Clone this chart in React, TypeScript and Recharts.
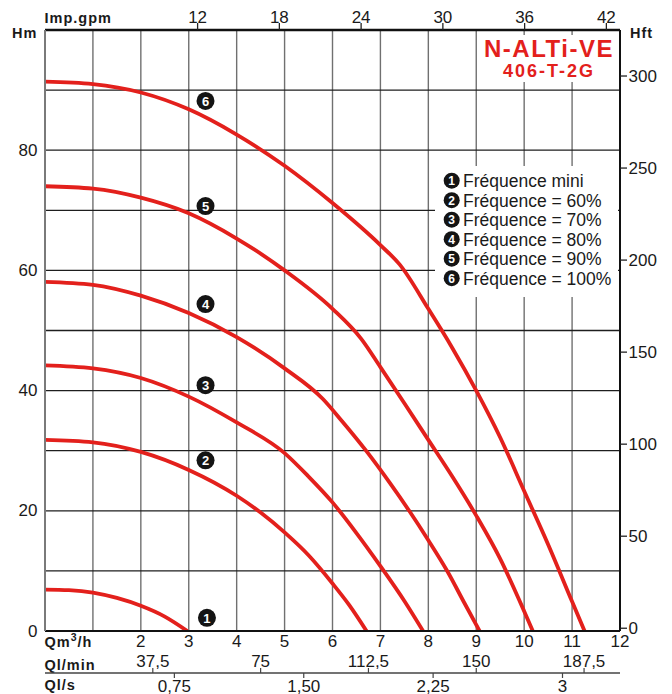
import React from 'react'
import { LineChart, Line, XAxis, YAxis, CartesianGrid, ReferenceDot } from 'recharts'

const RED = '#e3201c'
const FONT = '"Liberation Sans", Arial, Helvetica, sans-serif'

const q1 = [0, 0.5, 1, 1.5, 2, 2.5, 2.97]
const h1 = [6.9, 6.8, 6.4, 5.5, 4.2, 2.4, 0]
const q2 = [0, 1, 2, 3, 4, 4.5, 5, 5.5, 6, 6.35, 6.71]
const h2 = [31.8, 31.4, 29.8, 26.8, 22.5, 19.7, 16.4, 12.6, 7.9, 4.3, 0]
const q3 = [0, 1, 2, 3, 4, 5, 5.5, 6, 6.5, 7, 7.5, 7.89]
const h3 = [44.2, 43.7, 42.1, 39.0, 34.7, 29.6, 25.7, 21.4, 16.3, 10.8, 5.0, 0]
const q4 = [0, 1, 2, 3, 4, 5, 5.8, 6.2, 6.7, 7.2, 7.6, 8, 8.4, 8.75, 9.07]
const h4 = [58.1, 57.6, 55.8, 52.9, 48.9, 43.7, 38.6, 34.9, 30.0, 24.6, 20.0, 15.1, 9.9, 4.7, 0]
const q5 = [0, 1, 2, 3, 4, 5, 6, 6.6, 7, 7.5, 8, 8.5, 9, 9.5, 10, 10.18]
const h5 = [74.0, 73.6, 72.1, 69.5, 65.3, 60.0, 53.6, 48.6, 43.9, 37.9, 31.8, 25.7, 19.2, 12.0, 3.3, 0]
const q6 = [0, 1, 2, 3, 4, 5, 6, 7, 7.4, 8, 8.5, 9, 9.5, 10, 10.5, 11, 11.26]
const h6 = [91.4, 91.0, 89.6, 86.8, 82.6, 77.4, 71.2, 64.2, 61.0, 53.6, 47.1, 40.0, 32.2, 23.3, 14.4, 4.9, 0]

const hmTicks = [0, 10, 20, 30, 40, 50, 60, 70, 80, 90, 100]
const hmLabels = [0, 20, 40, 60, 80]
const hftTicks = [0, 50, 100, 150, 200, 250, 300]
const qTicks = [0, 1, 2, 3, 4, 5, 6, 7, 8, 9, 10, 11, 12]
const qLabels = [2, 3, 4, 5, 6, 7, 8, 9, 10, 11, 12]
const gpmTicks = [12, 18, 24, 30, 36, 42]
const lminTicks = [37.5, 75, 112.5, 150, 187.5]
const lminLabels = ['37,5', '75', '112,5', '150', '187,5']
const lsTicks = [0.75, 1.5, 2.25, 3]
const lsLabels = ['0,75', '1,50', '2,25', '3']

const legendLabels = [
  'Fréquence mini',
  'Fréquence = 60%',
  'Fréquence = 70%',
  'Fréquence = 80%',
  'Fréquence = 90%',
  'Fréquence = 100%',
]
const markerQ = [3.38, 3.35, 3.35, 3.35, 3.35, 3.35]
const markerH = [2.2, 28.4, 40.9, 54.4, 70.7, 88.2]

const toPoints = (q: number[], h: number[]) => q.map((v, i) => ({ q: v, h: h[i] }))
const curves = [toPoints(q1, h1), toPoints(q2, h2), toPoints(q3, h3), toPoints(q4, h4), toPoints(q5, h5), toPoints(q6, h6)]

const numStyle: React.CSSProperties = { fontFamily: FONT, fontSize: 17, fill: '#1a1a1a' }
const boldStyle: React.CSSProperties = { fontFamily: FONT, fontSize: 14.5, fontWeight: 'bold', letterSpacing: 1, fill: '#1a1a1a' }

const HmTick = ({ x, y, payload }: any) => {
  if (!hmLabels.includes(payload.value)) return <g />
  return (
    <text x={x - 7.5} y={y} textAnchor="end" dominantBaseline="central" style={numStyle}>
      {payload.value}
    </text>
  )
}

const HftTick = ({ x, y, payload }: any) => (
  <g>
    <line x1={x} x2={x + 7} y1={y} y2={y} stroke="#222" strokeWidth={1.3} />
    <text x={x + 8.5} y={y} dominantBaseline="central" style={numStyle}>
      {payload.value}
    </text>
  </g>
)

const QTick = ({ x, y, payload }: any) => {
  if (!qLabels.includes(payload.value)) return <g />
  return (
    <text x={x} y={y + 10} textAnchor="middle" dominantBaseline="central" style={numStyle}>
      {payload.value}
    </text>
  )
}

const GpmTick = ({ x, y, payload }: any) => (
  <g>
    <line x1={x} x2={x} y1={y - 7} y2={y} stroke="#222" strokeWidth={1.3} />
    <text x={x} y={y - 13} textAnchor="middle" dominantBaseline="central" style={numStyle}>
      {payload.value}
    </text>
  </g>
)

const LminTick = ({ x, y, payload }: any) => (
  <g>
    <line x1={x} x2={x} y1={y + 17} y2={y + 22} stroke="#444" strokeWidth={1.2} />
    <text x={x} y={y + 10} textAnchor="middle" dominantBaseline="central" style={numStyle}>
      {lminLabels[lminTicks.indexOf(payload.value)]}
    </text>
  </g>
)

const LsTick = ({ x, y, payload }: any) => (
  <g>
    <line x1={x} x2={x} y1={y} y2={y + 5} stroke="#444" strokeWidth={1.2} />
    <text x={x} y={y + 13} textAnchor="middle" dominantBaseline="central" style={numStyle}>
      {lsLabels[lsTicks.indexOf(payload.value)]}
    </text>
  </g>
)

const Marker = (n: number) => (p: any) => (
  <g>
    <circle cx={p.cx} cy={p.cy} r={9} fill="#141414" />
    <text x={p.cx} y={p.cy + 0.5} textAnchor="middle" dominantBaseline="central"
      style={{ fontFamily: FONT, fontSize: 13, fontWeight: 'bold', fill: '#fff' }}>
      {n}
    </text>
  </g>
)

// séries vides qui activent les échelles secondaires (aucun tracé)
const carrier = (ticks: number[]) => ticks.map((v) => ({ v }))

export default function App() {
  return (
    <div style={{ position: 'absolute', left: 0, top: 0, width: 672, height: 694, background: '#fff' }}>
      <LineChart width={672} height={694} margin={{ top: 0, right: 0, bottom: 0, left: 0 }}>
        <CartesianGrid xAxisId="b1q" yAxisId="m" horizontal={false} stroke="#707070" strokeWidth={1.4} />
        <CartesianGrid xAxisId="b1q" yAxisId="m" vertical={false} stroke="#1e1e1e" strokeWidth={1.3} />

        {/* cartouche titre */}
        <g>
          <rect x={478} y={35} width={141} height={47} fill="#fff" />
          <text x={549} y={57} textAnchor="middle"
            style={{ fontFamily: FONT, fontSize: 24, fontWeight: 'bold', letterSpacing: 1.5, fill: RED }}>
            N-ALTi-VE
          </text>
          <text x={549} y={77} textAnchor="middle"
            style={{ fontFamily: FONT, fontSize: 18, fontWeight: 'bold', letterSpacing: 2, fill: RED }}>
            406-T-2G
          </text>
        </g>

        {/* légende */}
        <g>
          <rect x={435} y={166} width={183} height={131} fill="#fff" />
          {legendLabels.map((t, i) => {
            const cy = 180.7 + i * 19.5
            return (
              <g key={t}>
                <circle cx={451.7} cy={cy} r={8} fill="#141414" />
                <text x={451.7} y={cy + 0.5} textAnchor="middle" dominantBaseline="central"
                  style={{ fontFamily: FONT, fontSize: 12, fontWeight: 'bold', fill: '#fff' }}>
                  {i + 1}
                </text>
                <text x={463} y={cy + 6.3} style={{ fontFamily: FONT, fontSize: 17.5, fill: '#1a1a1a' }}>
                  {t}
                </text>
              </g>
            )
          })}
        </g>

        {/* titres d'axes */}
        <text x={12} y={38.3} style={boldStyle}>Hm</text>
        <text x={630} y={38.3} style={boldStyle}>Hft</text>
        <text x={44.5} y={23} style={boldStyle}>Imp.gpm</text>
        <text x={44.5} y={647} style={boldStyle}>
          Qm<tspan dy={-6} fontSize={10.5}>3</tspan><tspan dy={6}>/h</tspan>
        </text>
        <text x={44.5} y={670} style={boldStyle}>Ql/min</text>
        <text x={44.5} y={690} style={boldStyle}>Ql/s</text>

        <XAxis xAxisId="b1q" dataKey="q" type="number" orientation="bottom" domain={[0, 12]} ticks={qTicks}
          allowDataOverflow interval={0} height={20} tickSize={0} tickMargin={0} tickLine={false}
          axisLine={{ stroke: '#111', strokeWidth: 2 }} tick={<QTick />} />
        <XAxis xAxisId="b2lmin" dataKey="v" type="number" orientation="bottom" domain={[0, 200]} ticks={lminTicks}
          allowDataOverflow interval={0} height={22} tickSize={0} tickMargin={0} tickLine={false}
          axisLine={false} tick={<LminTick />} />
        <XAxis xAxisId="b3ls" dataKey="v" type="number" orientation="bottom" domain={[0, 12 / 3.6]} ticks={lsTicks}
          allowDataOverflow interval={0} height={21} tickSize={0} tickMargin={0} tickLine={false}
          axisLine={{ stroke: '#444', strokeWidth: 1.5 }} tick={<LsTick />} />
        <XAxis xAxisId="gpm" dataKey="v" type="number" orientation="top" domain={[0.8, 43]} ticks={gpmTicks}
          allowDataOverflow interval={0} height={30} tickSize={0} tickMargin={0} tickLine={false}
          axisLine={{ stroke: '#111', strokeWidth: 2.5 }} tick={<GpmTick />} />
        <YAxis yAxisId="m" type="number" orientation="left" domain={[0, 100]} ticks={hmTicks}
          allowDataOverflow interval={0} width={45} tickSize={0} tickMargin={0} tickLine={false}
          axisLine={{ stroke: '#7a7a7a', strokeWidth: 2 }} tick={<HmTick />} />
        <YAxis yAxisId="ft" type="number" orientation="right" domain={[-1.5, 325]} ticks={hftTicks}
          allowDataOverflow interval={0} width={52} tickSize={0} tickMargin={0} tickLine={false}
          axisLine={{ stroke: '#111', strokeWidth: 2 }} tick={<HftTick />} />

        <Line data={carrier(gpmTicks)} dataKey="h" xAxisId="gpm" yAxisId="m" stroke="none"
          dot={false} activeDot={false} legendType="none" isAnimationActive={false} />
        <Line data={carrier(lminTicks)} dataKey="h" xAxisId="b2lmin" yAxisId="m" stroke="none"
          dot={false} activeDot={false} legendType="none" isAnimationActive={false} />
        <Line data={carrier(lsTicks)} dataKey="h" xAxisId="b3ls" yAxisId="m" stroke="none"
          dot={false} activeDot={false} legendType="none" isAnimationActive={false} />

        {curves.map((c, i) => (
          <Line key={i} data={c} dataKey="h" xAxisId="b1q" yAxisId="m" type="monotone"
            stroke={RED} strokeWidth={3.8} dot={false} activeDot={false} isAnimationActive={false} />
        ))}

        {markerQ.map((q, i) => (
          <ReferenceDot key={i} xAxisId="b1q" yAxisId="m" x={q} y={markerH[i]} r={9} shape={Marker(i + 1)} />
        ))}
      </LineChart>
    </div>
  )
}
